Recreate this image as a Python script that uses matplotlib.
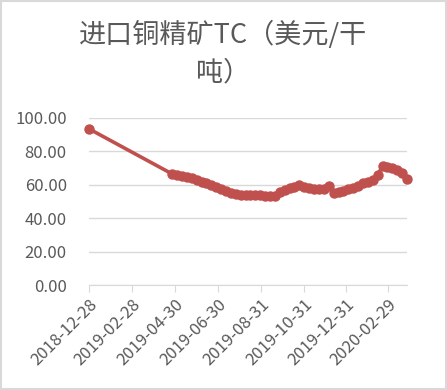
import matplotlib.pyplot as plt
import pandas as pd
from matplotlib.patches import Rectangle

plt.rcParams['font.family'] = ['Noto Sans CJK SC', 'DejaVu Sans']

# 数据：首个点 + 每周数据
first_date = ['2018-12-28']
first_value = [93.5]
weekly_dates = pd.date_range('2019-04-26', '2020-03-27', freq='7D')
weekly_values = [66.5, 66.0, 65.3, 64.6, 63.8, 62.8, 61.8, 61.0, 59.8, 58.6,
                 57.2, 56.0, 55.3, 54.5, 54.0, 54.0, 54.0, 54.0, 53.8, 53.5,
                 53.3, 53.3, 55.5, 57.0, 57.8, 58.5, 60.0, 58.5, 57.8, 57.5,
                 57.5, 57.5, 59.5, 55.0, 55.5, 56.5, 57.5, 58.0, 59.5, 61.0,
                 61.5, 63.0, 66.0, 71.0, 70.5, 70.0, 69.0, 67.0, 63.5]
tick_labels = ['2018-12-28', '2019-02-28', '2019-04-30', '2019-06-30',
               '2019-08-31', '2019-10-31', '2019-12-31', '2020-02-29']

dates = list(pd.to_datetime(first_date)) + list(weekly_dates)
values = first_value + weekly_values

fig = plt.figure(figsize=(4.47, 3.9), dpi=100)
ax = fig.add_axes([89 / 447, 1 - 285 / 390, (407 - 89) / 447, (285 - 118) / 390])

ax.plot(dates, values, color='#C0504D', linewidth=2.6, marker='o',
        markersize=6.5, markeredgecolor='#C0504D', clip_on=False)

ax.set_ylim(0, 100)
ax.set_yticks(range(0, 101, 20))
ax.set_yticklabels(['%.2f' % v for v in range(0, 101, 20)])
ax.set_xlim(dates[0], dates[-1])
ax.set_xticks(pd.to_datetime(tick_labels))
ax.set_xticklabels(tick_labels, rotation=45, ha='right', rotation_mode='anchor')

#  网格和坐标轴样式
ax.grid(axis='y', color='#D9D9D9', linewidth=1)
ax.set_axisbelow(True)
for s in ['top', 'right', 'left']:
    ax.spines[s].set_visible(False)
ax.spines['bottom'].set_color('#D9D9D9')
ax.tick_params(axis='y', length=0, pad=16, labelsize=12, labelcolor='#595959')
ax.tick_params(axis='x', length=5, color='#D9D9D9', pad=3, labelsize=12,
               labelcolor='#595959')

#  标题
fig.text(0.5, 1 - 35 / 390, '进口铜精矿TC（美元/干', ha='center', va='center',
         fontsize=19.5, color='#595959')
fig.text(0.5, 1 - 73 / 390, '吨）', ha='center', va='center',
         fontsize=19.5, color='#595959')

#  图表边框
fig.patches.append(Rectangle((0.002, 0.002), 0.996, 0.996, transform=fig.transFigure,
                             fill=False, edgecolor='#D9D9D9', linewidth=1.5))

fig.savefig('out.png', dpi=100)
